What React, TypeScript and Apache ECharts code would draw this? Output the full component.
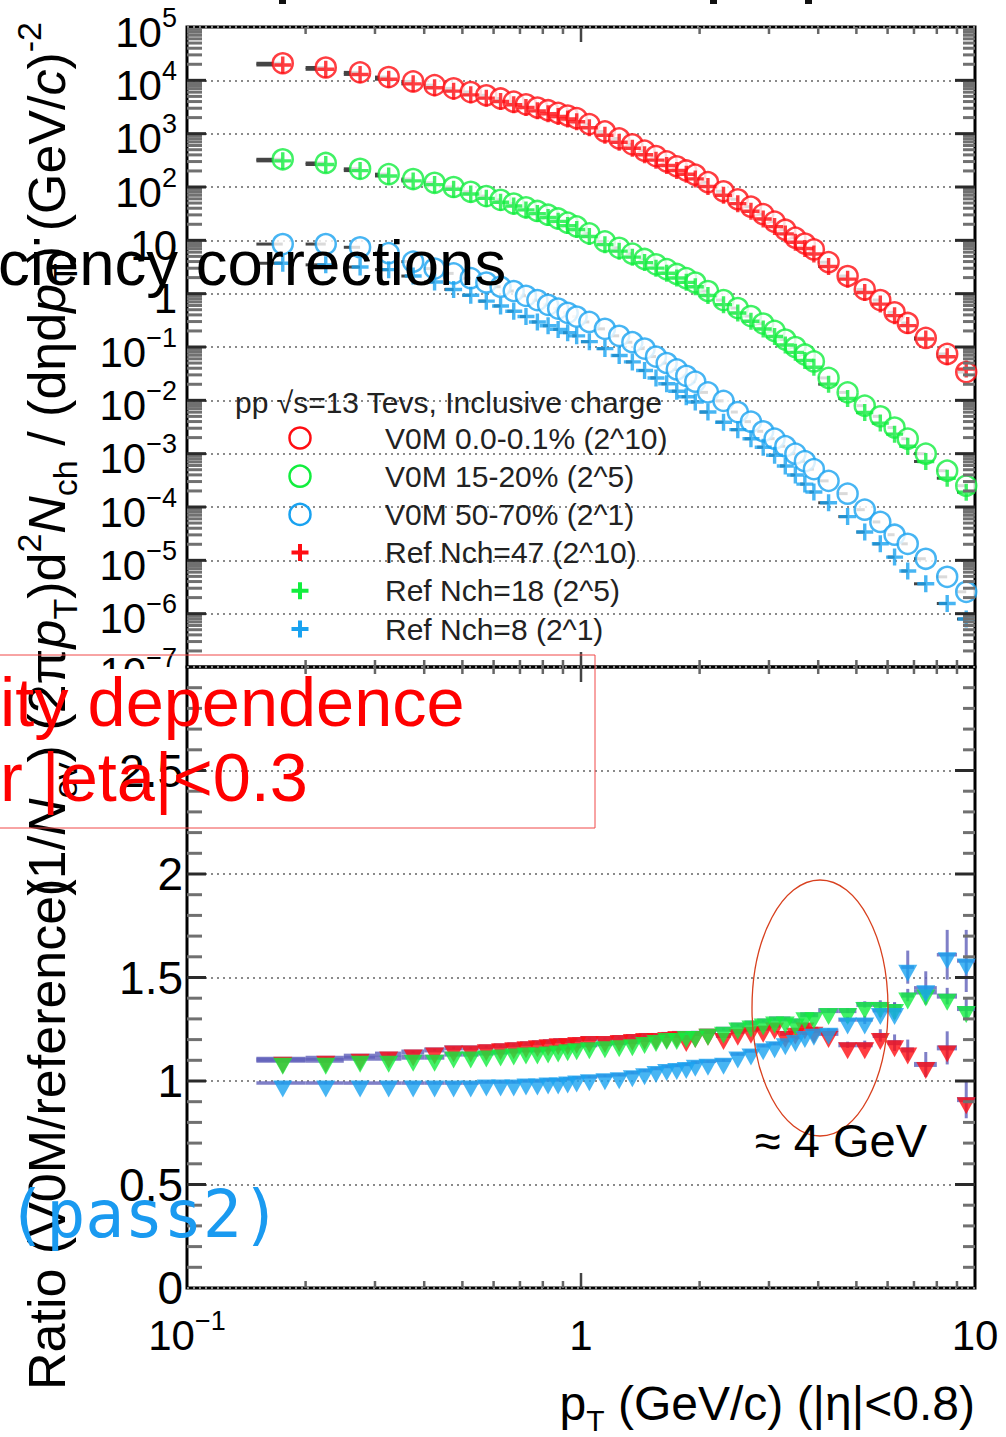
import React, { useEffect, useRef } from "react";
import * as echarts from "echarts";

// ---------- data ----------
const ptEdges = [0.15,0.2,0.25,0.3,0.35,0.4,0.45,0.5,0.55,0.6,0.65,0.7,0.75,0.8,0.85,0.9,0.95,1.0,1.1,1.2,1.3,1.4,1.5,1.6,1.7,1.8,1.9,2.0,2.2,2.4,2.6,2.8,3.0,3.2,3.4,3.6,3.8,4.0,4.5,5.0,5.5,6.0,6.5,7.0,8.0,9.0,10.0];

const v0mHigh = [2.09e4,1.74e4,1.41e4,1.15e4,9.55e3,8.13e3,7.08e3,6.03e3,5.25e3,4.57e3,3.98e3,3.55e3,3.09e3,2.75e3,2.45e3,2.19e3,1.95e3,1.51e3,1.10e3,8.13e2,6.31e2,4.79e2,3.80e2,3.02e2,2.45e2,2.04e2,1.70e2,1.23e2,8.32e1,5.89e1,4.27e1,3.09e1,2.24e1,1.58e1,1.12e1,8.71,6.76,3.89,2.14,1.20,0.759,0.447,0.282,0.148,0.0741,0.0339];
const refHigh = [1.94e4,1.61e4,1.29e4,1.05e4,8.60e3,7.26e3,6.27e3,5.34e3,4.63e3,4.01e3,3.48e3,3.09e3,2.68e3,2.37e3,2.10e3,1.88e3,1.67e3,1.29e3,936,689,532,403,319,253,204,173,142,102,69.9,48.7,35.0,25.2,18.1,13.2,9.22,7.02,5.54,3.24,1.87,1.05,0.638,0.387,0.252,0.141,0.0656,0.0385];
const v0mMid = [331,282,219,174,141,120,100,81.3,67.6,57.5,49.0,41.7,35.5,30.2,25.7,21.4,18.2,13.5,9.55,7.24,5.62,4.47,3.55,2.88,2.34,1.95,1.62,1.12,0.759,0.537,0.380,0.275,0.200,0.138,0.100,0.0724,0.0537,0.0263,0.0141,7.94e-3,5.01e-3,3.09e-3,1.91e-3,1.00e-3,4.79e-4,2.51e-4];
const refMid = [309,264,203,161,130,111,90.9,73.9,61.2,51.8,43.9,37.2,31.7,26.8,22.7,18.9,16.0,11.8,8.30,6.27,4.84,3.82,3.01,2.42,1.97,1.63,1.35,0.926,0.622,0.433,0.304,0.218,0.157,0.109,0.0794,0.0561,0.0416,0.0201,0.0108,5.93e-3,3.74e-3,2.32e-3,1.38e-3,7.14e-4,3.47e-4,1.90e-4];
const v0mLow = [8.51,8.51,7.41,5.75,3.98,2.95,2.40,1.95,1.62,1.35,1.12,0.912,0.759,0.617,0.525,0.437,0.372,0.295,0.219,0.162,0.123,0.0933,0.0661,0.0501,0.0380,0.0288,0.0224,0.0141,9.77e-3,6.03e-3,3.98e-3,2.63e-3,1.91e-3,1.38e-3,1.00e-3,7.24e-4,5.13e-4,3.09e-4,1.78e-4,8.91e-5,5.25e-5,3.02e-5,2.04e-5,1.07e-5,4.90e-6,2.57e-6];
const refLow = [3.72,3.47,3.16,2.82,2.14,1.66,1.20,0.933,0.724,0.589,0.468,0.372,0.295,0.251,0.214,0.186,0.162,0.126,0.0933,0.0692,0.0525,0.0363,0.0263,0.0204,0.0148,0.0117,9.33e-3,6.03e-3,3.89e-3,2.82e-3,1.91e-3,1.32e-3,9.33e-4,5.89e-4,3.98e-4,2.69e-4,1.91e-4,1.20e-4,6.61e-5,3.39e-5,2.04e-5,1.15e-5,6.31e-6,3.63e-6,1.55e-6,7.94e-7];

const ratioHigh = [1.105,1.11,1.12,1.13,1.14,1.15,1.16,1.16,1.165,1.17,1.175,1.18,1.185,1.19,1.195,1.195,1.20,1.205,1.205,1.21,1.215,1.22,1.22,1.225,1.23,1.21,1.23,1.24,1.22,1.24,1.25,1.255,1.27,1.23,1.245,1.27,1.25,1.23,1.175,1.175,1.22,1.185,1.15,1.08,1.16,0.91];
const ratioMid = [1.10,1.10,1.11,1.11,1.115,1.115,1.13,1.13,1.135,1.14,1.145,1.15,1.15,1.155,1.16,1.165,1.17,1.175,1.18,1.185,1.19,1.20,1.21,1.22,1.22,1.23,1.23,1.24,1.25,1.27,1.28,1.29,1.30,1.30,1.29,1.32,1.32,1.34,1.34,1.37,1.37,1.36,1.415,1.43,1.41,1.35];
const ratioLow = [0.99,0.99,0.99,0.99,0.99,0.99,0.99,0.99,0.995,0.995,0.995,1.00,1.00,1.005,1.005,1.01,1.015,1.02,1.025,1.03,1.04,1.05,1.06,1.07,1.075,1.08,1.09,1.095,1.10,1.13,1.145,1.17,1.18,1.195,1.21,1.23,1.24,1.245,1.295,1.295,1.34,1.34,1.55,1.45,1.61,1.58];

const ratioHighErr = [0.005,0.005,0.005,0.005,0.005,0.005,0.005,0.005,0.005,0.005,0.005,0.005,0.005,0.005,0.005,0.005,0.005,0.005,0.005,0.005,0.005,0.005,0.005,0.005,0.005,0.005,0.005,0.005,0.005,0.005,0.005,0.005,0.005,0.005,0.005,0.005,0.01,0.01,0.015,0.02,0.03,0.04,0.05,0.06,0.08,0.09];
const ratioMidErr = [0.005,0.005,0.005,0.005,0.005,0.005,0.005,0.005,0.005,0.005,0.005,0.005,0.005,0.005,0.005,0.005,0.005,0.005,0.005,0.005,0.005,0.005,0.005,0.005,0.005,0.005,0.005,0.005,0.005,0.005,0.005,0.005,0.005,0.005,0.005,0.005,0.008,0.01,0.012,0.015,0.02,0.02,0.03,0.03,0.04,0.05];
const ratioLowErr = [0.005,0.005,0.005,0.005,0.005,0.005,0.005,0.005,0.005,0.005,0.005,0.005,0.005,0.005,0.005,0.005,0.005,0.005,0.005,0.005,0.005,0.005,0.005,0.005,0.005,0.005,0.005,0.005,0.005,0.005,0.005,0.005,0.005,0.005,0.005,0.005,0.01,0.01,0.015,0.02,0.03,0.04,0.08,0.08,0.12,0.15];

const legendTitle = "pp √s=13 Tevs, Inclusive charge";
const legendLabels = ["V0M 0.0-0.1% (2^10)","V0M 15-20% (2^5)","V0M 50-70% (2^1)","Ref Nch=47 (2^10)","Ref Nch=18 (2^5)","Ref Nch=8 (2^1)"];

// ---------- style ----------
const FONT = "'Liberation Sans', Arial, Helvetica, sans-serif";
const RED = "#ff0d12";
const GREEN = "#12ee3e";
const BLUE = "#19a2f0";
const PLUS = "path://M4,0H6V4H10V6H6V10H4V6H0V4H4Z";

const centers = ptEdges.slice(0, -1).map((e, i) => (e + ptEdges[i + 1]) / 2);

function errBars(name: string, vals: number[], errs: number[] | null, color: string, wH: number, wV: number, gi: number, half: boolean) {
  return {
    type: "custom", name, xAxisIndex: gi, yAxisIndex: gi, silent: true, z: 2,
    encode: { x: 0, y: 1 },
    data: vals.map((v, i) => [centers[i], v, ptEdges[i], half ? centers[i] : ptEdges[i + 1], errs ? v - errs[i] : v, errs ? v + errs[i] : v]),
    renderItem: (params: any, api: any) => {
      const c = api.coord([api.value(0), api.value(1)]);
      const l = api.coord([api.value(2), api.value(1)]);
      const r = api.coord([api.value(3), api.value(1)]);
      const lo = api.coord([api.value(0), api.value(4)]);
      const hi = api.coord([api.value(0), api.value(5)]);
      return {
        type: "group",
        children: [
          { type: "line", shape: { x1: l[0], y1: c[1], x2: r[0], y2: c[1] }, style: { stroke: color, lineWidth: wH } },
          { type: "line", shape: { x1: c[0], y1: lo[1], x2: c[0], y2: hi[1] }, style: { stroke: color, lineWidth: wV } },
        ],
      };
    },
  };
}

function circles(name: string, vals: number[], color: string) {
  return {
    type: "scatter", name, xAxisIndex: 0, yAxisIndex: 0, silent: true, z: 3,
    data: vals.map((v, i) => [centers[i], v]),
    symbol: "circle", symbolSize: 20,
    itemStyle: { color: "#ffffff", borderColor: color, borderWidth: 2.5 },
  };
}
function pluses(name: string, vals: number[], color: string) {
  return {
    type: "scatter", name, xAxisIndex: 0, yAxisIndex: 0, silent: true, z: 4,
    data: vals.map((v, i) => [centers[i], v]),
    symbol: PLUS, symbolSize: 17,
    itemStyle: { color },
  };
}
function triangles(name: string, vals: number[], color: string) {
  return {
    type: "scatter", name, xAxisIndex: 1, yAxisIndex: 1, silent: true, z: 3,
    data: vals.map((v, i) => [centers[i], v]),
    symbol: "triangle", symbolRotate: 180, symbolSize: [19, 17], symbolOffset: [0, 6],
    itemStyle: { color },
  };
}

// tick rows: [x, y, kind]  kind 0 y-minor, 1 y-major, 2 x-minor, 3 x-major
const xTickRows = (yMid: number) => {
  const rows: number[][] = [];
  [0.2,0.3,0.4,0.5,0.6,0.7,0.8,0.9,2,3,4,5,6,7,8,9].forEach((x) => rows.push([x, yMid, 2]));
  rows.push([1, yMid, 3]);
  return rows;
};
const topTickRows: number[][] = [...xTickRows(1)];
for (let e = -7; e <= 4; e++) {
  for (let k = 1; k <= 9; k++) {
    if (e === -7 && k === 1) continue;
    topTickRows.push([1, k * Math.pow(10, e), k === 1 ? 1 : 0]);
  }
}
const botTickRows: number[][] = [...xTickRows(1)];
for (let i = 1; i <= 29; i++) botTickRows.push([1, i / 10, i % 5 === 0 ? 1 : 0]);

function ticks(gi: number, rows: number[][]) {
  return {
    type: "custom", xAxisIndex: gi, yAxisIndex: gi, silent: true, z: 5, clip: false,
    encode: { x: 0, y: 1 },
    data: rows,
    renderItem: (params: any, api: any) => {
      const cs = params.coordSys;
      const kind = api.value(2);
      const p = api.coord([api.value(0), api.value(1)]);
      const minor = { stroke: "#707070", lineWidth: 3 };
      const major = { stroke: "#2a2a2a", lineWidth: 3 };
      if (kind <= 1) {
        const st = kind === 1 ? major : minor;
        const lL = kind === 1 ? 19 : 15;
        const lR = kind === 1 ? 20 : 12;
        return {
          type: "group",
          children: [
            { type: "line", shape: { x1: cs.x, y1: p[1], x2: cs.x + lL, y2: p[1] }, style: st },
            { type: "line", shape: { x1: cs.x + cs.width - lR, y1: p[1], x2: cs.x + cs.width, y2: p[1] }, style: st },
          ],
        };
      }
      const len = kind === 3 ? 15 : 7;
      const st = { stroke: kind === 3 ? "#444" : "#666", lineWidth: 2.5 };
      return {
        type: "group",
        children: [
          { type: "line", shape: { x1: p[0], y1: cs.y, x2: p[0], y2: cs.y + len }, style: st },
          { type: "line", shape: { x1: p[0], y1: cs.y + cs.height - len, x2: p[0], y2: cs.y + cs.height }, style: st },
        ],
      };
    },
  };
}

const labelRich = {
  b: { fontSize: 42, lineHeight: 56, fontFamily: FONT, color: "#000" },
  s: { fontSize: 27, lineHeight: 27, verticalAlign: "top", fontFamily: FONT, color: "#000" },
};

function plusPoints(cx: number, cy: number, a: number, t: number) {
  return [
    [cx - t, cy - a], [cx + t, cy - a], [cx + t, cy - t], [cx + a, cy - t], [cx + a, cy + t], [cx + t, cy + t],
    [cx + t, cy + a], [cx - t, cy + a], [cx - t, cy + t], [cx - a, cy + t], [cx - a, cy - t], [cx - t, cy - t],
  ];
}

function buildLegend() {
  const els: any[] = [];
  els.push({ type: "text", x: 235, y: 402, z: 40, style: { text: legendTitle, fontSize: 30, fontFamily: FONT, fill: "#222", align: "left", verticalAlign: "middle" } });
  const colors = [RED, GREEN, BLUE, RED, GREEN, BLUE];
  legendLabels.forEach((lab, i) => {
    const cy = 438 + i * 38.2;
    if (i < 3) {
      els.push({ type: "circle", z: 40, shape: { cx: 300, cy, r: 10.5 }, style: { fill: "none", stroke: colors[i], lineWidth: 2.5 } });
    } else {
      els.push({ type: "polygon", z: 40, shape: { points: plusPoints(300, cy, 8.5, 2) }, style: { fill: colors[i] } });
    }
    els.push({ type: "text", x: 385, y: cy, z: 40, style: { text: lab, fontSize: 30, fontFamily: FONT, fill: "#222", align: "left", verticalAlign: "middle" } });
  });
  return els;
}

const titleRich = {
  n: { fontSize: 52, lineHeight: 70, fontFamily: FONT, fill: "#000" },
  i: { fontSize: 52, lineHeight: 70, fontFamily: FONT, fontStyle: "italic", fill: "#000" },
  sub: { fontSize: 34, lineHeight: 34, verticalAlign: "bottom", fontFamily: FONT, fill: "#000" },
  sup: { fontSize: 34, lineHeight: 34, verticalAlign: "top", fontFamily: FONT, fill: "#000" },
};

const option: any = {
  animation: false,
  backgroundColor: "#fff",
  grid: [
    { left: 187, top: 27, width: 788, height: 640, show: true, borderColor: "#000", borderWidth: 3, backgroundColor: "rgba(0,0,0,0)", outerBoundsMode: "none" },
    { left: 187, top: 667, width: 788, height: 621, show: true, borderColor: "#000", borderWidth: 3, backgroundColor: "rgba(0,0,0,0)", outerBoundsMode: "none" },
  ],
  xAxis: [
    { gridIndex: 0, type: "log", logBase: 10, min: 0.1, max: 10, interval: 1, axisLine: { show: false }, axisTick: { show: false }, axisLabel: { show: false }, splitLine: { show: false } },
    {
      gridIndex: 1, type: "log", logBase: 10, min: 0.1, max: 10, interval: 1,
      axisLine: { show: false }, axisTick: { show: false }, splitLine: { show: false },
      axisLabel: {
        show: true, margin: 19,
        formatter: (v: number) => (v < 0.5 ? "{b|10}{s|−1}" : v < 5 ? "{b|1}" : "{b|10}"),
        rich: labelRich,
      },
    },
  ],
  yAxis: [
    {
      gridIndex: 0, type: "log", logBase: 10, min: 1e-7, max: 1e5, interval: 1,
      axisLine: { show: false }, axisTick: { show: false },
      splitLine: { show: true, lineStyle: { color: "#8a8a8a", width: 2, type: [2, 4] } },
      axisLabel: {
        show: true, margin: 10, padding: [10, 0, 0, 0],
        formatter: (v: number) => {
          const e = Math.round(Math.log10(v));
          if (e === 0) return "{b|1}";
          if (e === 1) return "{b|10}";
          return "{b|10}{s|" + (e < 0 ? "−" + -e : String(e)) + "}";
        },
        rich: labelRich,
      },
    },
    {
      gridIndex: 1, type: "value", min: 0, max: 3, interval: 0.5,
      axisLine: { show: false }, axisTick: { show: false },
      splitLine: { show: true, lineStyle: { color: "#8a8a8a", width: 2, type: [2, 4] } },
      axisLabel: { show: true, margin: 4, fontSize: 46, fontFamily: FONT, color: "#000", formatter: (v: number) => (v >= 3 ? "" : String(v)) },
    },
  ],
  series: [
    errBars("barV0MHigh", v0mHigh, null, "#454545", 3, 1, 0, true),
    errBars("barV0MMid", v0mMid, null, "#454545", 3, 1, 0, true),
    errBars("barV0MLow", v0mLow, null, "#454545", 3, 1, 0, true),
    errBars("barRefHigh", refHigh, null, "#454545", 3, 1, 0, true),
    errBars("barRefMid", refMid, null, "#454545", 3, 1, 0, true),
    errBars("barRefLow", refLow, null, "#454545", 3, 1, 0, true),
    circles("V0M 0.0-0.1% (2^10)", v0mHigh, RED),
    circles("V0M 15-20% (2^5)", v0mMid, GREEN),
    circles("V0M 50-70% (2^1)", v0mLow, BLUE),
    pluses("Ref Nch=47 (2^10)", refHigh, RED),
    pluses("Ref Nch=18 (2^5)", refMid, GREEN),
    pluses("Ref Nch=8 (2^1)", refLow, BLUE),
    errBars("errRatioHigh", ratioHigh, ratioHighErr, "rgba(95,95,185,0.8)", 5, 3, 1, false),
    errBars("errRatioMid", ratioMid, ratioMidErr, "rgba(95,95,185,0.8)", 5, 3, 1, false),
    errBars("errRatioLow", ratioLow, ratioLowErr, "rgba(95,95,185,0.8)", 3.5, 3, 1, false),
    triangles("Ratio 0.0-0.1%", ratioHigh, RED),
    triangles("Ratio 15-20%", ratioMid, GREEN),
    triangles("Ratio 50-70%", ratioLow, BLUE),
    ticks(0, topTickRows),
    ticks(1, botTickRows),
  ],
  graphic: [
    { type: "rect", z: 100, shape: { x: 279, y: 0, width: 7, height: 4 }, style: { fill: "#111" } },
    { type: "rect", z: 100, shape: { x: 710, y: 0, width: 7, height: 4 }, style: { fill: "#111" } },
    { type: "rect", z: 100, shape: { x: 805, y: 0, width: 7, height: 4 }, style: { fill: "#111" } },
    { type: "rect", z: 50, shape: { x: 88, y: 669, width: 97, height: 30 }, style: { fill: "#fff" } },
    {
      type: "text", x: 47, y: 22, rotation: Math.PI / 2, z: 60,
      style: {
        text: "{n|(1/}{i|N}{sub|ev}{n|) (2π}{i|p}{sub|T}{n|)d}{sup|2}{i|N}{sub|ch}{n| / (dηd}{i|p}{sub|T}{n|) (GeV/}{i|c}{n|)}{sup|-2}",
        align: "right", verticalAlign: "middle", rich: titleRich,
      },
    },
    {
      type: "text", x: 47, y: 1390, rotation: Math.PI / 2, z: 60,
      style: { text: "Ratio (V0M/reference)", fontSize: 52, lineHeight: 70, fontFamily: FONT, fill: "#000", align: "left", verticalAlign: "middle" },
    },
    {
      type: "text", x: 975, y: 1403, z: 60,
      style: {
        text: "{n|p}{sub|T}{n| (GeV/c) (|η|<0.8)}", align: "right", verticalAlign: "middle",
        rich: {
          n: { fontSize: 48, lineHeight: 64, fontFamily: FONT, fill: "#000" },
          sub: { fontSize: 30, lineHeight: 30, verticalAlign: "bottom", fontFamily: FONT, fill: "#000" },
        },
      },
    },
    ...buildLegend(),
    { type: "text", x: -2, y: 263, z: 100, style: { text: "ciency corrections", fontSize: 63.5, fontFamily: FONT, fill: "#000", align: "left", verticalAlign: "middle" } },
    { type: "rect", z: 100, shape: { x: -5, y: 655, width: 600, height: 173 }, style: { fill: "none", stroke: "#f04848", lineWidth: 1 } },
    { type: "text", x: 0, y: 702, z: 100, style: { text: "ity dependence", fontSize: 68.5, fontFamily: FONT, fill: "#ff0000", align: "left", verticalAlign: "middle" } },
    { type: "text", x: 0, y: 777, z: 100, style: { text: "r |eta|<0.3", fontSize: 68.5, fontFamily: FONT, fill: "#ff0000", align: "left", verticalAlign: "middle" } },
    { type: "ellipse", z: 100, shape: { cx: 820, cy: 1008, rx: 68, ry: 128 }, style: { fill: "none", stroke: "#d8401e", lineWidth: 1.3 } },
    { type: "text", x: 755, y: 1140, z: 100, style: { text: "≈ 4 GeV", fontSize: 47, fontFamily: FONT, fill: "#000", align: "left", verticalAlign: "middle" } },
    { type: "text", x: 7, y: 1214, z: 100, style: { text: "(pass2)", fontSize: 65, fontFamily: "'DejaVu Sans Mono', monospace", fill: "#1a9af0", align: "left", verticalAlign: "middle" } },
  ],
};

export default function App() {
  const ref = useRef<HTMLDivElement>(null);
  useEffect(() => {
    if (!ref.current) return;
    const chart = echarts.init(ref.current, null, { renderer: "svg" });
    chart.setOption(option);
    return () => chart.dispose();
  }, []);
  return <div ref={ref} style={{ position: "fixed", left: 0, top: 0, width: 1006, height: 1437, background: "#fff" }} />;
}
